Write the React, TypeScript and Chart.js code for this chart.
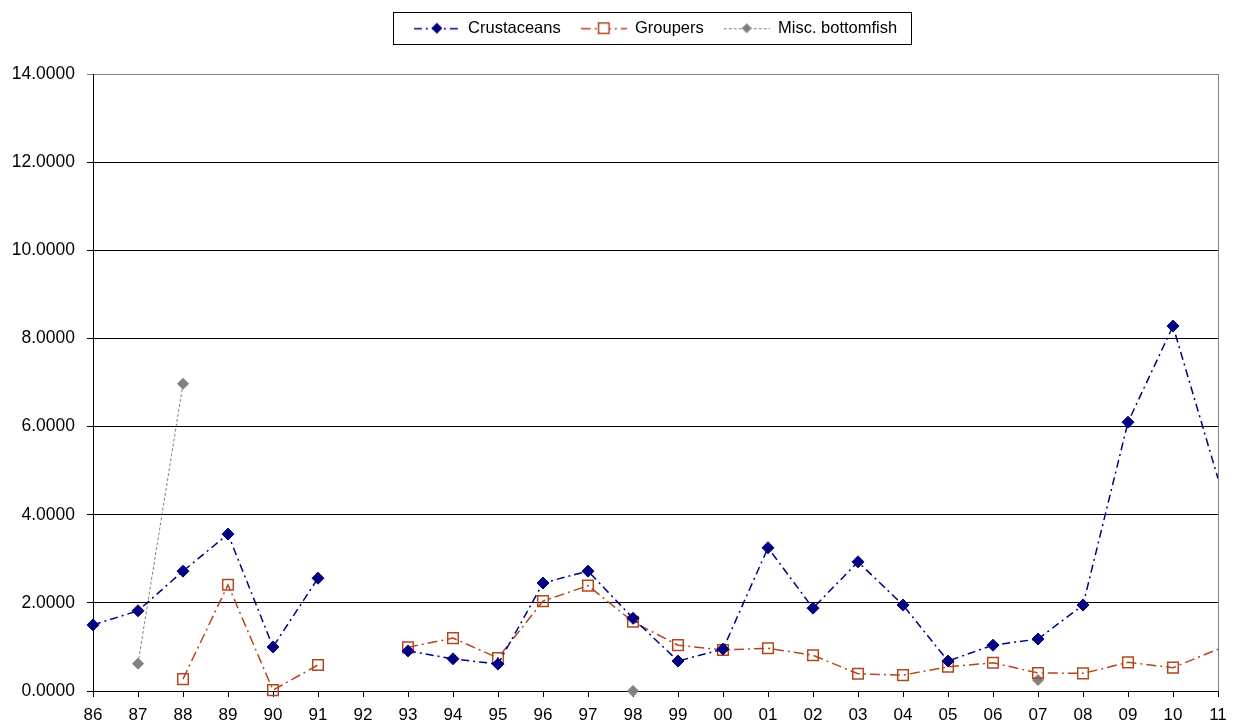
import React, { useEffect, useRef } from "react";
import { Chart, registerables } from "chart.js";

Chart.register(...registerables);

const YEARS = ["86", "87", "88", "89", "90", "91", "92", "93", "94", "95", "96", "97", "98", "99", "00", "01", "02", "03", "04", "05", "06", "07", "08", "09", "10", "11"];

const CRUSTACEANS = [1.5, 1.82, 2.72, 3.56, 1.0, 2.56, null, 0.91, 0.73, 0.61, 2.45, 2.72, 1.65, 0.68, 0.95, 3.25, 1.88, 2.93, 1.95, 0.68, 1.04, 1.18, 1.95, 6.1, 8.28, 4.82];

const GROUPERS = [null, null, 0.27, 2.41, 0.02, 0.59, null, 0.99, 1.2, 0.75, 2.04, 2.39, 1.57, 1.04, 0.93, 0.97, 0.81, 0.39, 0.36, 0.55, 0.64, 0.41, 0.4, 0.65, 0.53, 0.95];

const MISC_BOTTOMFISH = [null, 0.62, 6.97, null, null, null, null, null, null, null, null, null, 0, null, null, null, null, null, null, null, null, 0.25, null, null, null, null];

const Y_MIN = 0;
const Y_MAX = 14;
const Y_STEP = 2;

const FONT = "'Liberation Sans', Arial, sans-serif";
const NAVY = "#000080";
const BROWN = "#B4461E";
const GREY = "#808080";

type SeriesStyle = {
  color: string;
  dash: number[];
  width: number;
  marker: "rectRot" | "rect";
  radius: number;
  filled: boolean;
};

const STYLES: SeriesStyle[] = [
  { color: NAVY, dash: [8, 4, 2, 4], width: 1.5, marker: "rectRot", radius: 6, filled: true },
  { color: BROWN, dash: [10, 4, 2, 4], width: 1.5, marker: "rect", radius: 7.5, filled: false },
  { color: GREY, dash: [3, 2], width: 1, marker: "rectRot", radius: 5.5, filled: true },
];

// Small line + marker sample used as the legend symbol
function makeSample(s: SeriesStyle): HTMLCanvasElement {
  const c = document.createElement("canvas");
  c.width = 46;
  c.height = 16;
  const g = c.getContext("2d")!;
  g.strokeStyle = s.color;
  g.lineWidth = s.width;
  g.setLineDash(s.dash);
  g.beginPath();
  g.moveTo(0, 8.5);
  g.lineTo(46, 8.5);
  g.stroke();
  g.setLineDash([]);
  g.beginPath();
  if (s.marker === "rectRot") {
    const r = s.radius - 0.5;
    g.moveTo(23, 8 - r);
    g.lineTo(23 + r, 8);
    g.lineTo(23, 8 + r);
    g.lineTo(23 - r, 8);
    g.closePath();
    g.fillStyle = s.color;
    g.fill();
  } else {
    const h = Math.SQRT1_2 * s.radius;
    g.fillStyle = "#ffffff";
    g.rect(23 - h, 8 - h, 2 * h, 2 * h);
    g.fill();
    g.lineWidth = 1.5;
    g.strokeStyle = s.color;
    g.stroke();
  }
  return c;
}

const frame = {
  id: "frame",
  afterDraw(chart: any) {
    const { ctx, chartArea } = chart;
    ctx.save();
    // right edge of the plot area
    ctx.strokeStyle = GREY;
    ctx.lineWidth = 1;
    const xr = Math.round(chartArea.right) + 0.5;
    ctx.beginPath();
    ctx.moveTo(xr, chartArea.top);
    ctx.lineTo(xr, chartArea.bottom);
    ctx.stroke();
    // box around the legend
    const hb = chart.legend?.legendHitBoxes;
    if (hb && hb.length) {
      const first = hb[0];
      const last = hb[hb.length - 1];
      const left = Math.round(first.left - 21) + 0.5;
      const right = Math.round(last.left + last.width + 14) + 0.5;
      const cy = first.top + first.height / 2;
      const top = Math.round(cy - 16) + 0.5;
      const bottom = Math.round(cy + 16) + 0.5;
      ctx.strokeStyle = "#000";
      ctx.strokeRect(left, top, right - left, bottom - top);
    }
    ctx.restore();
  },
};

export default function App() {
  const ref = useRef<HTMLCanvasElement | null>(null);

  useEffect(() => {
    if (!ref.current) return;
    const samples = STYLES.map(makeSample);
    const lastIdx = YEARS.length - 1;

    const makeDataset = (label: string, data: (number | null)[], s: SeriesStyle, hideLast: boolean) => ({
      label,
      data,
      borderColor: s.color,
      backgroundColor: s.filled ? s.color : "rgba(0,0,0,0)",
      borderWidth: s.width,
      borderDash: s.dash,
      pointStyle: s.marker,
      pointRadius: (c: any) => (hideLast && c.dataIndex === lastIdx ? 0 : s.radius),
      pointBorderColor: s.color,
      pointBackgroundColor: s.filled ? s.color : "rgba(0,0,0,0)",
      pointBorderWidth: s.filled ? 1 : 1.5,
      pointHoverRadius: s.radius,
      spanGaps: false,
      tension: 0,
      clip: false as const,
    });

    const chart = new Chart(ref.current, {
      type: "line",
      data: {
        labels: YEARS,
        datasets: [
          makeDataset("Crustaceans", CRUSTACEANS, STYLES[0], true),
          makeDataset("Groupers", GROUPERS, STYLES[1], true),
          makeDataset("Misc. bottomfish", MISC_BOTTOMFISH, STYLES[2], false),
        ],
      },
      options: {
        animation: false,
        responsive: true,
        maintainAspectRatio: false,
        events: [],
        layout: { padding: { top: 0, left: 0, right: 17, bottom: 0 } },
        plugins: {
          tooltip: { enabled: false },
          legend: {
            position: "top",
            fullSize: false,
            labels: {
              usePointStyle: true,
              pointStyleWidth: 46,
              boxHeight: 16,
              padding: 20,
              color: "#000",
              font: { family: FONT, size: 16.5 },
              generateLabels: (ch: any) =>
                Chart.defaults.plugins.legend.labels
                  .generateLabels(ch)
                  .map((item: any, i: number) => ({ ...item, pointStyle: samples[i] })),
            },
          },
          // empty spacer between legend and plot
          title: {
            display: true,
            text: "",
            weight: 500,
            font: { size: 10 },
            padding: { top: 15.5, bottom: 0 },
          } as any,
        },
        scales: {
          x: {
            type: "category",
            offset: false,
            grid: {
              display: true,
              drawOnChartArea: false,
              drawTicks: true,
              tickLength: 6,
              color: "#000",
              offset: false,
            },
            border: { display: true, color: "#000", width: 1 },
            ticks: {
              color: "#000",
              font: { family: FONT, size: 17 },
              padding: 8,
              maxRotation: 0,
              autoSkip: false,
            },
            afterFit: (scale: any) => {
              scale.height = 35;
            },
          },
          y: {
            min: Y_MIN,
            max: Y_MAX,
            grid: {
              color: (c: any) => (c.tick && c.tick.value === Y_MAX ? GREY : "#000"),
              lineWidth: 1,
              drawTicks: true,
              tickLength: 6,
            },
            border: { display: true, color: "#000", width: 1 },
            ticks: {
              stepSize: Y_STEP,
              color: "#000",
              font: { family: FONT, size: 17.5 },
              padding: 12,
              callback: (v: any) => Number(v).toFixed(4),
            },
            afterFit: (scale: any) => {
              scale.width = 93;
            },
          },
        },
      },
      plugins: [frame],
    });
    return () => chart.destroy();
  }, []);

  return (
    <div style={{ position: "fixed", left: 0, top: 0, width: 1235, height: 726, background: "#fff" }}>
      <canvas ref={ref} />
    </div>
  );
}
